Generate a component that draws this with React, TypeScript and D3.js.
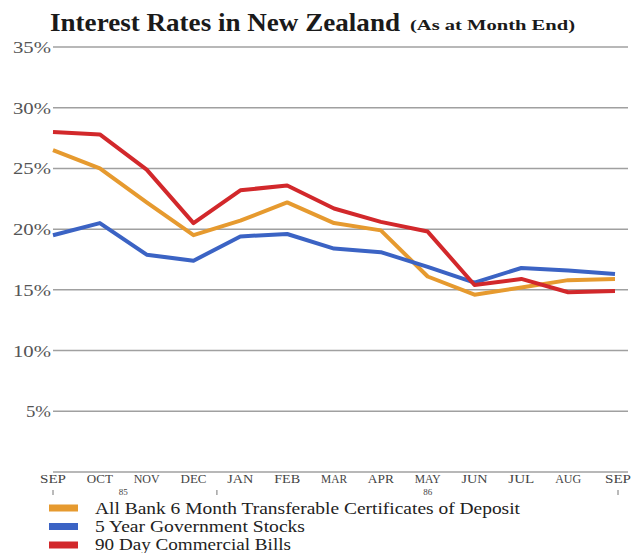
import React from "react";
import * as d3 from "d3";

const months = ["SEP", "OCT", "NOV", "DEC", "JAN", "FEB", "MAR", "APR", "MAY", "JUN", "JUL", "AUG", "SEP"];
const yTicks = [5, 10, 15, 20, 25, 30, 35];
const certificates = [26.5, 25.0, 22.2, 19.5, 20.7, 22.2, 20.5, 19.9, 16.1, 14.6, 15.2, 15.8, 15.9];
const govStocks = [19.5, 20.5, 17.9, 17.4, 19.4, 19.6, 18.4, 18.1, 16.9, 15.6, 16.8, 16.6, 16.3];
const commercialBills = [28.0, 27.8, 24.9, 20.5, 23.2, 23.6, 21.7, 20.6, 19.8, 15.4, 15.9, 14.8, 14.9];
const seriesNames = [
  "All Bank 6 Month Transferable Certificates of Deposit",
  "5 Year Government Stocks",
  "90 Day Commercial Bills",
];
const legendWidths = [425, 210, 196];
const colors = ["#e69a2f", "#3b63c4", "#d2282b"];

const W = 638, H = 553;

export default function App() {
  const x = d3.scaleLinear().domain([0, months.length - 1]).range([53, 615]);
  const y = d3.scaleLinear().domain([0, 35]).range([472, 47]);
  const line = d3.line<number>().x((_, i) => x(i)).y((d) => y(d));
  const series = [certificates, govStocks, commercialBills];
  const font = "'Liberation Serif', 'Times New Roman', serif";
  return (
    <svg width={W} height={H} style={{ position: "absolute", left: 0, top: 0, background: "#fff" }} fontFamily={font}>
      <text x={50} y={31} fontSize={26} fontWeight="bold" fill="#1a1a1a" textLength={350} lengthAdjust="spacingAndGlyphs">Interest Rates in New Zealand</text>
      <text x={410} y={30} fontSize={14} fontWeight="bold" fill="#1a1a1a" textLength={165} lengthAdjust="spacingAndGlyphs">(As at Month End)</text>
      {yTicks.map((t) => (
        <g key={t}>
          <line x1={53} x2={628} y1={y(t)} y2={y(t)} stroke="#a0a0a0" strokeWidth={1.5} />
          <text x={51} y={y(t) + 6} fontSize={17} textAnchor="end" fill="#555" textLength={t === 5 ? 25 : 38} lengthAdjust="spacingAndGlyphs">{t}%</text>
        </g>
      ))}
      <line x1={53} x2={628} y1={y(0)} y2={y(0)} stroke="#a0a0a0" strokeWidth={1.5} />
      {months.map((m, i) => (
        <text key={i} x={x(i) + (i === 12 ? 3 : 0)} y={483} fontSize={12} textAnchor="middle" fill="#444" textLength={26} lengthAdjust="spacingAndGlyphs">{m}</text>
      ))}
      <text x={(x(1) + x(2)) / 2} y={495} fontSize={9} textAnchor="middle" fill="#444">85</text>
      <text x={x(8)} y={495} fontSize={9} textAnchor="middle" fill="#444">86</text>
      {[x(0), (x(3) + x(4)) / 2, x(12) + 3].map((px, i) => (
        <line key={i} x1={px} x2={px} y1={490} y2={495} stroke="#777" strokeWidth={1} />
      ))}
      {series.map((s, i) => (
        <path key={i} d={line(s) || ""} fill="none" stroke={colors[i]} strokeWidth={4} strokeLinejoin="round" />
      ))}
      {seriesNames.map((n, i) => (
        <g key={n}>
          <rect x={49} y={504.5 + i * 18.5} width={29} height={7} fill={colors[i]} />
          <text x={95} y={514 + i * 18} fontSize={16.5} fill="#222" textLength={legendWidths[i]} lengthAdjust="spacingAndGlyphs">{n}</text>
        </g>
      ))}
    </svg>
  );
}
